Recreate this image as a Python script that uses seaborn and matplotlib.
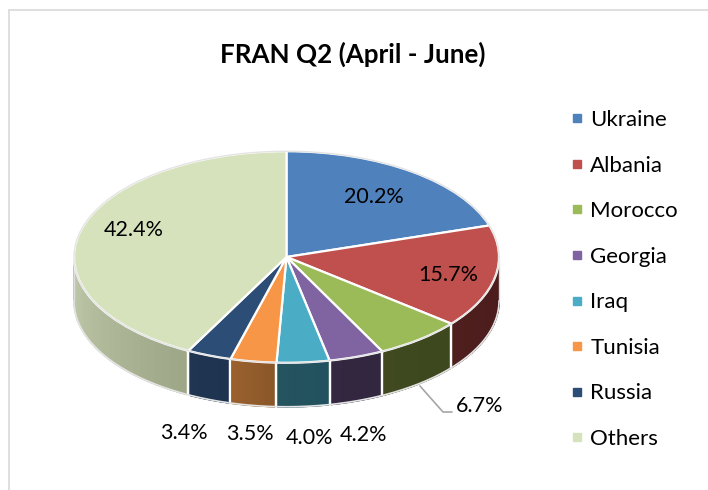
import numpy as np
import matplotlib
matplotlib.use('Agg')
import matplotlib.pyplot as plt
import matplotlib.colors as mcolors
from matplotlib.lines import Line2D
import seaborn as sns

# values
countries = ['Ukraine', 'Albania', 'Morocco', 'Georgia', 'Iraq', 'Tunisia', 'Russia', 'Others']
shares = [20.2, 15.7, 6.7, 4.2, 4.0, 3.5, 3.4, 42.4]
top_colors = ['#4f81bd', '#c0504d', '#9bbb59', '#8064a2', '#4bacc6', '#f79646', '#2c4d75', '#d6e2bc']
# wall shading, (light end, dark end) going round the front
wall_colors = [('#2f4d71', '#2f4d71'), ('#4a1c1b', '#4f1f1e'), ('#3d481f', '#40491f'),
               ('#33263f', '#332741'), ('#22525f', '#25545f'), ('#8a5628', '#9c622f'),
               ('#1e3350', '#1f3552'), ('#9da788', '#c2cbac')]

sns.set_theme(style='white')
plt.rcParams['font.family'] = ['Lato', 'DejaVu Sans']

fig = plt.figure(figsize=(7.08, 4.9), dpi=100)
ax = fig.add_axes([0, 0, 1, 1])

# pie drawn as a circle in data units, squashed by the axis limits
cx, cy, radius, squash, depth_px = 286.5, 257, 212.5, 0.4977, 44
depth = depth_px / squash
wedges, _ = ax.pie(shares, colors=sns.color_palette(top_colors), startangle=90, counterclock=False,
                   radius=radius, center=(0, 0), frame=True,
                   wedgeprops={'edgecolor': 'white', 'linewidth': 1.6, 'zorder': 3})
ax.set_aspect('auto')
ax.set_xlim(-cx, 708 - cx)
ax.set_ylim((cy - 490) / squash, cy / squash)
ax.axis('off')

# walls of the cake, only the front half shows
for wedge, (dark, light) in zip(wedges, wall_colors):
    lo, hi = max(wedge.theta1, -180), min(wedge.theta2, 0)
    if hi <= lo:
        continue
    steps = np.linspace(lo, hi, 25)
    c0, c1 = np.array(mcolors.to_rgb(dark)), np.array(mcolors.to_rgb(light))
    for i in range(len(steps) - 1):
        t = np.radians(steps[i:i + 2])
        xs = radius * np.cos(t)
        ys = radius * np.sin(t)
        frac = (steps[i] + steps[i + 1] - 2 * hi) / (2 * (lo - hi))
        col = c0 * (1 - frac) + c1 * frac
        ax.fill(np.r_[xs, xs[::-1]], np.r_[ys, ys[::-1] - depth], color=col, lw=1.2, zorder=1)
    # white seams between the slices
    for a in (lo, hi):
        if a not in (-180, 0):
            ax.plot([radius * np.cos(np.radians(a))] * 2,
                    [radius * np.sin(np.radians(a)), radius * np.sin(np.radians(a)) - depth],
                    color='white', lw=1.6, zorder=2)

t = np.radians(np.linspace(-180, 0, 200))
ax.plot(radius * np.cos(t), radius * np.sin(t) - depth, color='#e4e4e4', lw=1.2, zorder=2)
for x in (-radius, radius):
    ax.plot([x, x], [0, -depth], color='#dddddd', lw=1, zorder=2)
t = np.radians(np.linspace(0, 360, 400))
ax.plot(radius * np.cos(t), radius * np.sin(t), color='#e4e4e4', lw=1, zorder=4)


def px(x, y):
    return x - cx, (cy - y) / squash


# data labels at their picture positions
label_pos = [(374, 197), (448, 275), (480, 406), (364, 435), (310, 438), (250, 434), (184, 433), (134, 230)]
for share, (x, y) in zip(shares, label_pos):
    ax.text(*px(x, y), f'{share:.1f}%', ha='center', va='center', fontsize=15.5, color='black', zorder=6)

# leader for the Morocco label
lx, ly = zip(px(420, 386), px(443, 412), px(452, 412))
ax.plot(lx, ly, color='#a6a6a6', lw=1.2, zorder=5)

fig.text(352.5 / 708, 1 - 54 / 490, 'FRAN Q2 (April - June)', ha='center', va='center',
         fontsize=18.7, fontweight='bold', color='black')

handles = [Line2D([], [], linestyle='none', marker='s', markersize=5.8, color=c) for c in top_colors]
fig.legend(handles, countries, loc='center left', bbox_to_anchor=(566 / 708, 1 - 279.5 / 490),
           frameon=False, fontsize=16, labelspacing=1.15, handlelength=1, handletextpad=0.09,
           borderpad=0, borderaxespad=0, labelcolor='black')

# chart frame, cropped on the right and bottom
fig.add_artist(Line2D([9 / 708, 9 / 708], [0, 1 - 10.5 / 490], color='#d9d9d9', lw=1.2))
fig.add_artist(Line2D([9 / 708, 1], [1 - 10.5 / 490, 1 - 10.5 / 490], color='#d9d9d9', lw=1.2))

fig.savefig('out.png', dpi=100)
